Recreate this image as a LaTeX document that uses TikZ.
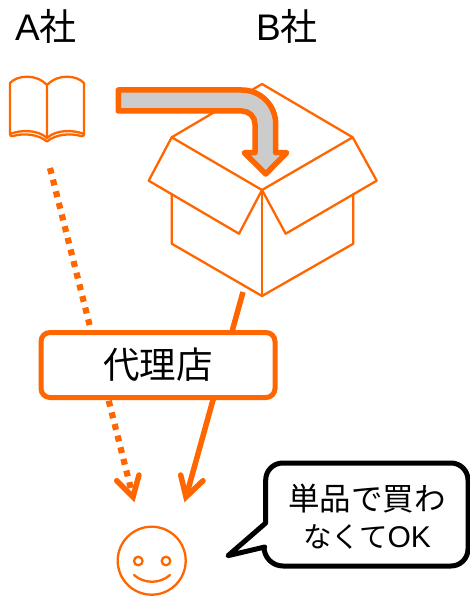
\documentclass[tikz,border=0pt]{standalone}
\usepackage{fontspec}
\setmainfont{Liberation Sans}
\newfontfamily\cjk{Noto Sans CJK JP}
\definecolor{org}{HTML}{FF6600}
\definecolor{arrowgray}{HTML}{CCCCCC}
\tikzset{
  thinline/.style={draw=org,line width=2.3pt,line join=round,line cap=round},
  flowline/.style={draw=org,line width=5.5pt},
  chevron/.style={draw=org,line width=5.5pt,line join=miter,line cap=round},
  agency/.style={draw=org,fill=white,line width=5pt,rounded corners=9pt,minimum width=234pt,minimum height=65pt,inner sep=0pt,font=\cjk\fontsize{36.5}{40}\selectfont},
  label/.style={inner sep=0pt,font=\fontsize{37}{40}\selectfont},
  speech/.style={inner sep=0pt,align=center,font=\fontsize{31.5}{37}\selectfont},
}
\begin{document}
\begin{tikzpicture}[x=1pt,y=-1pt]
\useasboundingbox (0,0) rectangle (470,596);
% labels
\node[label] (a) at (46,26) {A{\cjk 社}};
\node[label] (b) at (287,26) {B{\cjk 社}};
% book
\draw[thinline] (47,85) .. controls (41,79) and (34,76.7) .. (27,76.7) .. controls (20,76.7) and (14,79) .. (10,83) -- (10,134) .. controls (20,130) and (37,129) .. (47,138) .. controls (57,129) and (74,130) .. (84,134) -- (84,83) .. controls (80,79) and (74,76.7) .. (67,76.7) .. controls (60,76.7) and (53,79) .. (47,85) -- (47,138);
\draw[thinline] (10,134) .. controls (10,136) and (11,136.5) .. (13,136) .. controls (24,133) and (38,134) .. (47,141.5) .. controls (56,134) and (70,133) .. (81,136) .. controls (83,136.5) and (84,136) .. (84,134);
% box
\draw[thinline] (171.7,194) -- (171.7,243.7) -- (262,296) -- (353.3,243.7) -- (353.3,194);
\draw[thinline] (262,190) -- (262,296);
\draw[thinline] (171.7,137.3) -- (262,84) -- (352.7,137.3) -- (262,190) -- cycle;
\draw[thinline] (171.7,137.3) -- (148.7,180.7) -- (239,233.7) -- (262,190);
\draw[thinline] (352.7,137.3) -- (376.7,180.7) -- (285.7,233.7) -- (262,190);
% connector ends
\coordinate (dotstart) at (50,168);
\coordinate (dottip) at (133,497);
\coordinate (dotl) at (116.7,480.7);
\coordinate (dotr) at (139,475);
\coordinate (solstart) at (243,292);
\coordinate (soltip) at (186,497);
\coordinate (soll) at (180.7,475);
\coordinate (solr) at (203,480.7);
% connectors
\draw[flowline,line width=6.2pt,dash pattern=on 6pt off 6pt] (dotstart) -- (dottip);
\draw[flowline] (solstart) -- (soltip);
\draw[chevron] (dotl) -- (dottip) -- (dotr);
\draw[chevron] (soll) -- (soltip) -- (solr);
% agency
\node[agency] (agent) at (158,365) {\raisebox{1pt}{代理店}};
% gray arrow
\draw[draw=org,fill=arrowgray,line width=5.5pt,line join=round]
  (118.3,90) -- (241.7,90) arc[start angle=-90,end angle=0,radius=34] -- (275.7,152.7) -- (286.7,152.7) -- (265.7,174) -- (244.3,152.7) -- (255,152.7) -- (255,124) arc[start angle=0,end angle=-90,radius=13] -- (118.3,111) -- cycle;
% smiley
\node[circle,draw=org,line width=2.3pt,minimum size=68pt,inner sep=0pt] (face) at (151.7,560.7) {};
\draw[thinline] (138.3,561) circle[radius=4.3];
\draw[thinline] (166,561) circle[radius=4.3];
\draw[thinline] (134,575) .. controls (144,584) and (160,584) .. (170,575);
% callout
\draw[draw=black,fill=white,line width=5pt,line join=round] (265.7,523) -- (265.7,480) arc[start angle=180,end angle=270,radius=17] -- (451,463) arc[start angle=-90,end angle=0,radius=17] -- (468,549) arc[start angle=0,end angle=90,radius=17] -- (283,566) arc[start angle=90,end angle=180,radius=19] -- (264.7,547) -- (228,555.7) -- cycle;
\node[speech] (talk) at (367,516.5) {{\cjk 単品で買わ}\\{\fontsize{28.5}{37}\selectfont\cjk なくて}{\fontsize{30}{37}\selectfont OK}};
\end{tikzpicture}
\end{document}
